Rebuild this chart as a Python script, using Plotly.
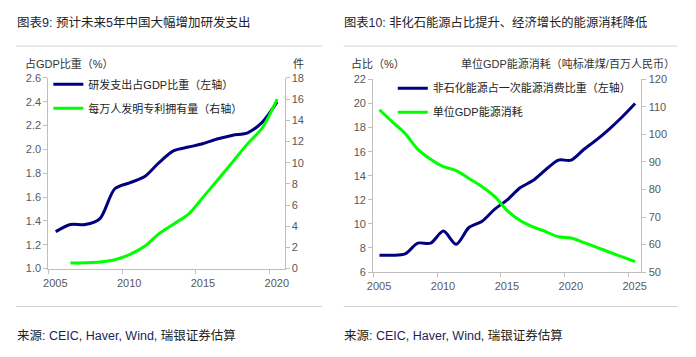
import plotly.graph_objects as go

# ---------------- data ----------------
rd_years = list(range(2005, 2021))
rd_share = [1.31, 1.37, 1.37, 1.42, 1.67, 1.72, 1.77, 1.89, 1.99, 2.02, 2.05, 2.09, 2.12, 2.14, 2.23, 2.40]
pat_years = list(range(2006, 2021))
patents = [0.52, 0.55, 0.61, 0.83, 1.32, 2.08, 3.30, 4.22, 5.14, 6.77, 8.42, 10.1, 11.8, 13.3, 16.0]

en_years = list(range(2005, 2026))
nonfossil = [7.4, 7.4, 7.5, 8.4, 8.4, 9.4, 8.3, 9.7, 10.2, 11.2, 12.0, 13.0, 13.6, 14.5, 15.3, 15.3,
             16.2, 17.0, 17.9, 18.9, 20.0]
energy_int = [109.0, 104.6, 100.4, 94.6, 91.0, 88.3, 86.9, 84.0, 81.1, 77.5, 72.3, 68.7, 66.4, 64.7,
              62.8, 62.4, 60.7, 59.0, 57.2, 55.5, 53.8]

left_xticks = [2005, 2010, 2015, 2020]
right_xticks = [2005, 2010, 2015, 2020, 2025]

name_rd = "研发支出占GDP比重（左轴）"
name_pat = "每万人发明专利拥有量（右轴）"
name_nf = "非石化能源占一次能源消费比重（左轴）"
name_en = "单位GDP能源消耗"

title_l = "图表<span style='color:#1e1e5a'>9: </span>预计未来<span style='color:#1e1e5a'>5</span>年中国大幅增加研发支出"
title_r = "图表<span style='color:#1e1e5a'>10: </span>非化石能源占比提升、经济增长的能源消耗降低"
source = "来源<span style='color:#1e1e5a'>: CEIC, Haver, Wind, </span>瑞银证券估算"

# ---------------- layout helpers ----------------
W, H = 696, 357
def px(x):
    return x / W
def py(y):
    return 1 - y / H

NAVY = "#000080"
GREEN = "#00ff00"
AXC = "#bfbfbf"
TKC = "#595959"
CJK = "Liberation Sans, Noto Sans CJK SC, sans-serif"
TICKF = dict(family="Liberation Sans, Arial, sans-serif", size=11, color=TKC)

mid = lambda ys: [y + 0.5 for y in ys]  # annual values plotted at mid-year

fig = go.Figure()
fig.add_trace(go.Scatter(x=mid(rd_years), y=rd_share, name=name_rd, mode="lines",
                         line=dict(color=NAVY, width=3, shape="spline", smoothing=0.8),
                         xaxis="x", yaxis="y", legend="legend", legendgroup="a"))
fig.add_trace(go.Scatter(x=mid(pat_years), y=patents, name=name_pat, mode="lines",
                         line=dict(color=GREEN, width=3, shape="spline", smoothing=0.8),
                         xaxis="x", yaxis="y2", legend="legend", legendgroup="b"))
fig.add_trace(go.Scatter(x=mid(en_years), y=nonfossil, name=name_nf, mode="lines",
                         line=dict(color=NAVY, width=3, shape="spline", smoothing=0.8),
                         xaxis="x2", yaxis="y3", legend="legend2", legendgroup="c"))
fig.add_trace(go.Scatter(x=mid(en_years), y=energy_int, name=name_en, mode="lines",
                         line=dict(color=GREEN, width=3, shape="spline", smoothing=0.8),
                         xaxis="x2", yaxis="y4", legend="legend2", legendgroup="d"))

common_ax = dict(showgrid=False, zeroline=False, showline=True, linecolor=AXC, linewidth=1,
                 ticks="outside", ticklen=4, tickcolor=AXC, tickfont=TICKF, fixedrange=True)

L_dom_x = [px(43), px(283)]
L_dom_y = [py(271.7), py(74.5)]
R_dom_x = [px(373), px(645.7)]
R_dom_y = [py(275.3), py(76)]

fig.update_layout(
    width=W, height=H, margin=dict(l=0, r=0, t=0, b=0),
    paper_bgcolor="white", plot_bgcolor="white",
    font=dict(family=CJK, size=11, color="#222222"),
    xaxis=dict(common_ax, domain=L_dom_x, range=[2005, 2021], tickmode="array",
               tickvals=left_xticks, ticktext=[str(v) for v in left_xticks],
               ticklabelshift=7, anchor="y"),
    yaxis=dict(common_ax, domain=L_dom_y, range=[1.0, 2.6], dtick=0.2, tick0=1.0,
               tickformat=".1f", anchor="x"),
    yaxis2=dict(common_ax, domain=L_dom_y, range=[0, 18], dtick=2, overlaying="y",
                side="right", anchor="x"),
    xaxis2=dict(common_ax, domain=R_dom_x, range=[2005, 2026], tickmode="array",
                tickvals=right_xticks, ticktext=[str(v) for v in right_xticks],
                ticklabelshift=6, anchor="y3"),
    yaxis3=dict(common_ax, domain=R_dom_y, range=[6, 22], dtick=2, tick0=6, anchor="x2"),
    yaxis4=dict(common_ax, domain=R_dom_y, range=[50, 120], dtick=10, overlaying="y3",
                side="right", anchor="x2"),
    legend=dict(x=px(43), y=py(66), xanchor="left", yanchor="top", bgcolor="rgba(0,0,0,0)",
                font=dict(family=CJK, size=11, color="#222222"), tracegroupgap=5,
                itemwidth=30, traceorder="grouped"),
    legend2=dict(x=px(393), y=py(70), xanchor="left", yanchor="top", bgcolor="rgba(0,0,0,0)",
                 font=dict(family=CJK, size=11, color="#222222"), tracegroupgap=5,
                 itemwidth=30, traceorder="grouped"),
    showlegend=True,
)

ann = []
def text(x, y, s, size=11, anchor="left", color="#222222"):
    ann.append(dict(x=px(x), y=py(y), xref="paper", yref="paper", text=s, showarrow=False,
                    xanchor=anchor, yanchor="middle", font=dict(family=CJK, size=size, color=color)))

text(9, 17.5, title_l, size=12.5)
text(341, 17.5, title_r, size=12.3)
text(9, 341, source, size=12.5)
text(341, 341, source, size=12.5)
text(17, 60, "占GDP比重（%）", size=11, color="#333333")
text(297, 60, "件", size=11, anchor="center", color="#333333")
text(349, 60, "占比（%）", size=11, color="#333333")
text(682, 60, "单位GDP能源消耗（吨标准煤/百万人民币）", size=11, anchor="right", color="#333333")
fig.update_layout(annotations=ann)

shapes = []
for (x0, x1) in [(10, 321), (343, 682)]:
    for yy in (41.5, 311):
        shapes.append(dict(type="line", xref="paper", yref="paper", x0=px(x0), x1=px(x1),
                           y0=py(yy), y1=py(yy), line=dict(color="#d0d0d0", width=1)))
fig.update_layout(shapes=shapes)

fig.write_html("out.html", config={"displayModeBar": False},
               post_script="document.body.style.margin='0';document.body.style.padding='0';")
